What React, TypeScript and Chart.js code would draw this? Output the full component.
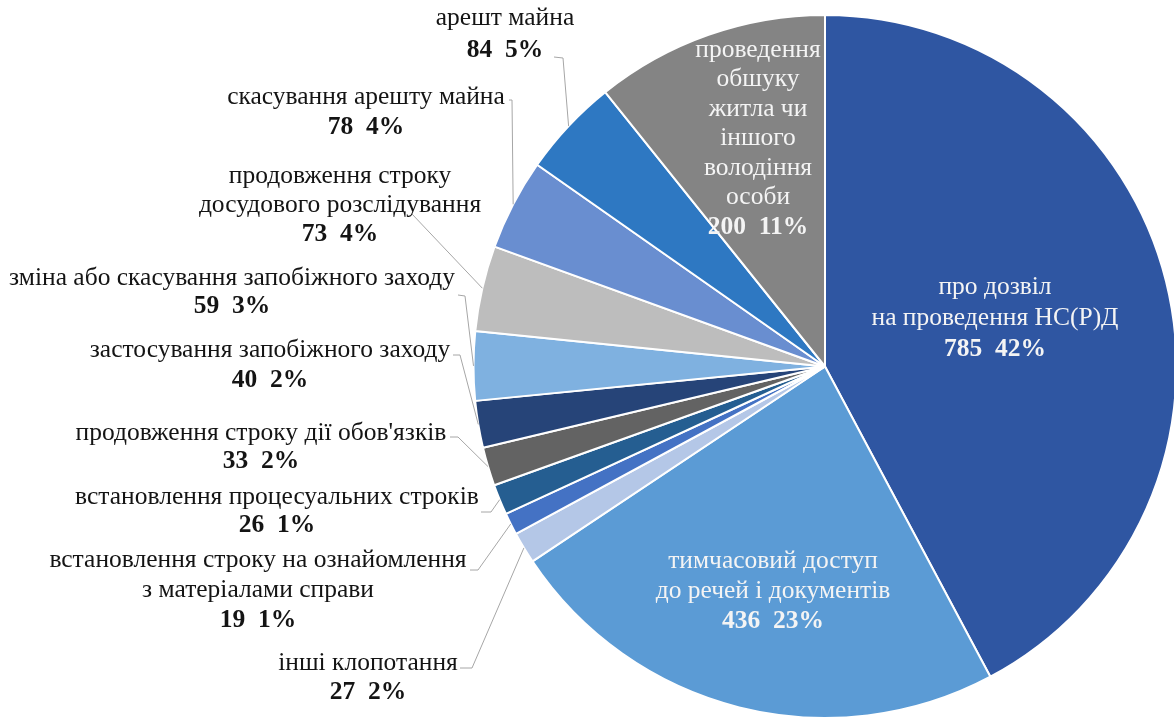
import React, { useEffect, useRef } from "react";
import { Chart, registerables } from "chart.js";

Chart.register(...registerables);

// ---- data ----
const categories: string[][] = [
  ["про дозвіл", "на проведення НС(Р)Д"],
  ["тимчасовий доступ", "до речей і документів"],
  ["інші клопотання"],
  ["встановлення строку на ознайомлення", "з матеріалами справи"],
  ["встановлення процесуальних строків"],
  ["продовження строку дії обов'язків"],
  ["застосування запобіжного заходу"],
  ["зміна або скасування запобіжного заходу"],
  ["продовження строку", "досудового розслідування"],
  ["скасування арешту майна"],
  ["арешт майна"],
  ["проведення", "обшуку", "житла чи", "іншого", "володіння", "особи"],
];
const values = [785, 436, 27, 19, 26, 33, 40, 59, 73, 78, 84, 200];
const percents = [42, 23, 2, 1, 1, 2, 2, 3, 4, 4, 5, 11];

// ---- styles ----
const colors = [
  "#2F56A2",
  "#5B9BD5",
  "#B4C7E7",
  "#4472C4",
  "#255E91",
  "#636363",
  "#264478",
  "#7FB1E0",
  "#BDBDBD",
  "#698ED0",
  "#2E78C2",
  "#848484",
];

type LabelPos = {
  x: number;
  y: number;
  lh: number;
  inside?: boolean;
  line?: number[][];
};

const labelLayout: LabelPos[] = [
  { x: 995, y: 287, lh: 31, inside: true },
  { x: 773, y: 561, lh: 30, inside: true },
  { x: 368, y: 663, lh: 29, line: [[460, 668], [472, 668]] },
  { x: 258, y: 560, lh: 30, line: [[470, 570], [478, 570]] },
  { x: 277, y: 497, lh: 28, line: [[481, 512], [491, 512]] },
  { x: 261, y: 433, lh: 28, line: [[450, 437], [458, 437]] },
  { x: 270, y: 350, lh: 30, line: [[453, 355], [460, 355]] },
  { x: 232, y: 278, lh: 28, line: [[458, 295], [465, 296]] },
  { x: 340, y: 176, lh: 29, line: [[412, 214]] },
  { x: 366, y: 97, lh: 30, line: [[509, 100], [512, 100]] },
  { x: 505, y: 18, lh: 32, line: [[554, 57], [563, 58]] },
  { x: 758, y: 50, lh: 29.5, inside: true },
];

const FONT = '"Liberation Serif", "Times New Roman", serif';
const FONT_SIZE = 25.5;

const labelsPlugin = {
  id: "pieLabels",
  afterDraw(chart: any) {
    const ctx = chart.ctx as CanvasRenderingContext2D;
    const meta = chart.getDatasetMeta(0);
    ctx.save();
    meta.data.forEach((arc: any, i: number) => {
      const lay = labelLayout[i];
      const p = arc.getProps(["x", "y", "startAngle", "endAngle", "outerRadius"], true);
      const mid = (p.startAngle + p.endAngle) / 2;
      const ex = p.x + Math.cos(mid) * p.outerRadius;
      const ey = p.y + Math.sin(mid) * p.outerRadius;
      if (lay.line) {
        ctx.strokeStyle = "#A6A6A6";
        ctx.lineWidth = 1;
        ctx.beginPath();
        lay.line.forEach((pt, k) => {
          if (k === 0) ctx.moveTo(pt[0], pt[1]);
          else ctx.lineTo(pt[0], pt[1]);
        });
        ctx.lineTo(ex, ey);
        ctx.stroke();
      }
      const lines = categories[i];
      ctx.textAlign = "center";
      ctx.textBaseline = "middle";
      ctx.fillStyle = lay.inside ? "#F4F4F4" : "#141414";
      ctx.font = `${FONT_SIZE}px ${FONT}`;
      lines.forEach((t, k) => {
        ctx.fillText(t, lay.x, lay.y + k * lay.lh);
      });
      ctx.font = `bold ${FONT_SIZE}px ${FONT}`;
      ctx.fillText(`${values[i]}  ${percents[i]}%`, lay.x, lay.y + lines.length * lay.lh);
    });
    ctx.restore();
  },
};

export default function App() {
  const ref = useRef<HTMLCanvasElement | null>(null);
  useEffect(() => {
    if (!ref.current) return;
    const chart = new Chart(ref.current, {
      type: "pie",
      data: {
        labels: categories.map((c) => c.join(" ")),
        datasets: [
          {
            data: values,
            backgroundColor: colors,
            borderColor: "#FFFFFF",
            borderWidth: 2,
          },
        ],
      },
      options: {
        responsive: false,
        animation: false,
        devicePixelRatio: 1,
        layout: { padding: { left: 472, right: 22, top: 14, bottom: 0 } },
        plugins: {
          legend: { display: false },
          tooltip: { enabled: false },
        },
      },
      plugins: [labelsPlugin],
    });
    return () => chart.destroy();
  }, []);
  return (
    <div
      style={{
        position: "absolute",
        left: 0,
        top: 0,
        width: 1174,
        height: 719,
        overflow: "hidden",
        background: "#FFFFFF",
      }}
    >
      <canvas ref={ref} width={1200} height={719} style={{ width: 1200, height: 719 }} />
    </div>
  );
}
